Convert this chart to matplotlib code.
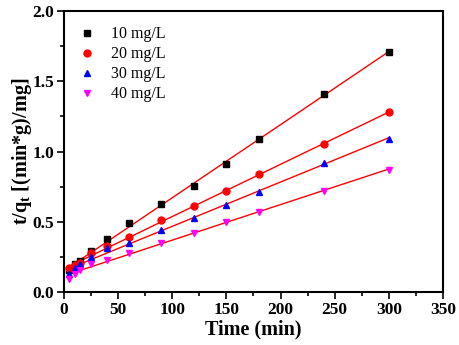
import matplotlib
matplotlib.use("Agg")
import numpy as np
import matplotlib.pyplot as plt
from matplotlib.ticker import MultipleLocator

plt.rcParams['font.family'] = 'Liberation Serif'
plt.rcParams['mathtext.fontset'] = 'custom'
plt.rcParams['mathtext.rm'] = 'Liberation Serif:bold'
plt.rcParams['mathtext.default'] = 'rm'

time = [5, 10, 15, 25, 40, 60, 90, 120, 150, 180, 240, 300]
c10 = [0.16, 0.20, 0.22, 0.29, 0.375, 0.49, 0.625, 0.755, 0.91, 1.09, 1.41, 1.71]
c20 = [0.17, 0.19, 0.21, 0.275, 0.33, 0.39, 0.51, 0.61, 0.72, 0.84, 1.05, 1.28]
c30 = [0.13, 0.17, 0.20, 0.25, 0.31, 0.35, 0.44, 0.53, 0.62, 0.71, 0.92, 1.09]
c40 = [0.09, 0.13, 0.16, 0.20, 0.23, 0.28, 0.35, 0.42, 0.50, 0.57, 0.72, 0.87]
labels = ['10 mg/L', '20 mg/L', '30 mg/L', '40 mg/L']

series = [c10, c20, c30, c40]
markers = ['s', 'o', '^', 'v']
colors = ['black', 'red', 'blue', 'magenta']

fig = plt.figure(figsize=(4.59, 3.45), dpi=100)
ax = fig.add_axes([0.1394, 0.1536, 0.8256, 0.8144])

t = np.array(time)
for y, m, c, lab in zip(series, markers, colors, labels):
    ax.plot(t, y, ls='none', marker=m, color=c, ms=5, label=lab, zorder=3)
    k, b = np.polyfit(t, y, 1)
    ax.plot(t, k * t + b, color='red', lw=1.0, zorder=2)

ax.set_xlim(0, 350)
ax.set_ylim(0, 2.0)
ax.xaxis.set_major_locator(MultipleLocator(50))
ax.xaxis.set_minor_locator(MultipleLocator(25))
ax.yaxis.set_major_locator(MultipleLocator(0.5))
ax.yaxis.set_minor_locator(MultipleLocator(0.25))
ax.yaxis.set_major_formatter(matplotlib.ticker.FormatStrFormatter('%.1f'))
ax.tick_params(which='both', direction='out', top=False, right=False, width=1.2)
ax.tick_params(which='major', length=5, labelsize=12.5, pad=2)
ax.tick_params(which='minor', length=3)
for lab in ax.get_xticklabels() + ax.get_yticklabels():
    lab.set_fontweight('bold')
for sp in ax.spines.values():
    sp.set_linewidth(1.5)

ax.set_xlabel('Time (min)', fontsize=14.5, fontweight='bold', labelpad=1)
ax.set_ylabel('t/q$_t$ [(min*g)/mg]', fontsize=14.5, fontweight='bold', labelpad=-1)

ax.legend(loc='upper left', frameon=False, fontsize=11.5, handlelength=1.0,
          handletextpad=0.95, borderaxespad=0.0, labelspacing=0.25,
          bbox_to_anchor=(0.024, 0.969))

fig.savefig('out.png', dpi=100)
